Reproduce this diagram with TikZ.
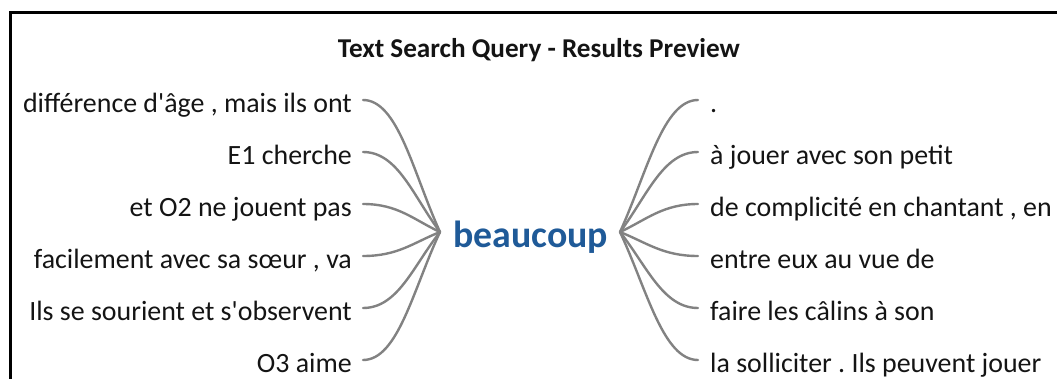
\documentclass[tikz,border=0pt]{standalone}
\usepackage{fontspec}
\setmainfont{Carlito}[Ligatures=TeXOff]
\frenchspacing
\usetikzlibrary{calc}
\definecolor{kwblue}{RGB}{31,90,152}
\definecolor{conn}{RGB}{130,130,130}
\definecolor{txt}{RGB}{20,20,20}
\tikzset{
  lbl/.style={inner sep=0pt, font=\fontsize{27.9}{30}\selectfont, text=txt},
  leftlbl/.style={lbl, anchor=base east},
  rightlbl/.style={lbl, anchor=base west},
  connector/.style={draw=conn, line width=2.4pt, line cap=round},
  frame/.style={draw=black, line width=3pt},
}
\begin{document}
\begin{tikzpicture}[x=1pt,y=-1pt]
\useasboundingbox (0,0) rectangle (1057,378);
\draw[frame] (10,400) -- (10,12) -- (1070,12);
\node[inner sep=0pt, anchor=base, font=\fontsize{27.2}{30}\selectfont\bfseries, text=txt] (title) at (539,57) {Text Search Query - Results Preview};
\node[inner sep=0pt, anchor=base, font=\fontsize{37.8}{40}\selectfont\bfseries, text=kwblue] (kw) at (530.5,247) {beaucoup};
\coordinate (cl) at (440,232);
\coordinate (cr) at (620,232);
\foreach \i/\lt/\rt in {0/{différence d'âge , mais ils ont}/{.},
                        1/{E1 cherche}/{à jouer avec son petit},
                        2/{et O2 ne jouent pas}/{de complicité en chantant , en},
                        3/{facilement avec sa sœur , va}/{entre eux au vue de},
                        4/{Ils se sourient et s'observent}/{faire les câlins à son},
                        5/{O3 aime}/{la solliciter . Ils peuvent jouer}}{
  \pgfmathsetmacro{\yb}{112+52*\i}
  \pgfmathsetmacro{\yl}{100+52*\i}
  \pgfmathsetmacro{\yc}{232+0.45*(\yl-232)}
  \node[leftlbl] (L\i) at (352,\yb) {\lt};
  \node[rightlbl] (R\i) at (710,\yb) {\rt};
  \coordinate (ls\i) at (363,\yl);
  \coordinate (re\i) at (698,\yl);
  \draw[connector] (ls\i) .. controls (398,\yl) and (413,\yc) .. (cl);
  \draw[connector] (cr) .. controls (647,\yc) and (663,\yl) .. (re\i);
}
\end{tikzpicture}
\end{document}
